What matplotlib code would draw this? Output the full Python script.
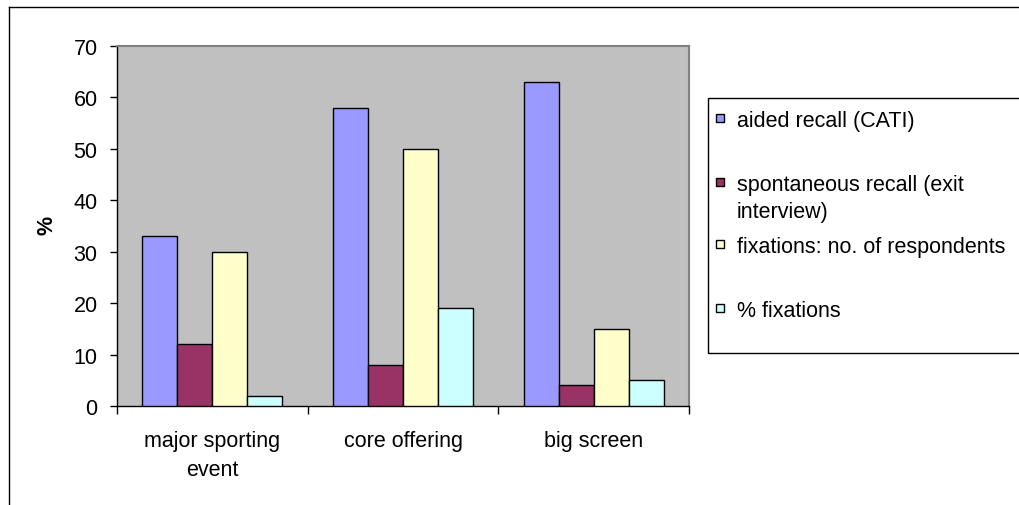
import matplotlib.pyplot as plt
import numpy as np
from matplotlib.patches import Rectangle
from matplotlib.lines import Line2D

plt.rcParams['font.family'] = ['Liberation Sans', 'DejaVu Sans']

categories = ['major sporting\nevent', 'core offering', 'big screen']
series = ['aided recall (CATI)', 'spontaneous recall (exit\ninterview)',
          'fixations: no. of respondents', '% fixations']
aided = [33, 58, 63]
spontaneous = [12, 8, 4]
fixations_resp = [30, 50, 15]
fixations_pct = [2, 19, 5]
colors = ['#9999FF', '#993366', '#FFFFCC', '#CCFFFF']

W, H = 1020, 506
FS = 15.5
fig = plt.figure(figsize=(W / 100, H / 100), dpi=100)

def fx(x):
    return x / W

def fy(y):
    return 1 - y / H

# outer chart border (left and top edges)
fig.add_artist(Line2D([fx(9), fx(9)], [fy(8), 0], color='black', lw=1))
fig.add_artist(Line2D([fx(9), 1], [fy(8), fy(8)], color='black', lw=1))

ax = fig.add_axes([fx(117), fy(407), fx(689 - 117), (407 - 47) / H])
ax.set_facecolor('#C0C0C0')

x = np.arange(len(categories))
bw = 0.184
values = [aided, spontaneous, fixations_resp, fixations_pct]
for i, (vals, c) in enumerate(zip(values, colors)):
    ax.bar(x + (i - 1.5) * bw, vals, width=bw, color=c,
           edgecolor='black', linewidth=1, zorder=3)

ax.set_xlim(-0.5, 2.5)
ax.set_ylim(0, 70)
ax.set_yticks(range(0, 71, 10))
ax.tick_params(axis='y', direction='out', length=5, width=1, pad=9,
               labelsize=FS)

ax.set_xticks([-0.5, 0.5, 1.5, 2.5])
ax.set_xticklabels([])
ax.tick_params(axis='x', which='major', direction='out', length=6, width=1)
ax.set_xticks(x, minor=True)
ax.set_xticklabels(categories, minor=True, fontsize=FS, linespacing=1.5)
ax.tick_params(axis='x', which='minor', length=0, pad=17)

for s in ['top', 'right']:
    ax.spines[s].set_color('#808080')
    ax.spines[s].set_linewidth(1.5)
for s in ['left', 'bottom']:
    ax.spines[s].set_color('black')
    ax.spines[s].set_linewidth(1)

fig.text(fx(47), fy(225), '%', rotation=90, ha='center', va='center',
         fontsize=FS, fontweight='bold')

# legend box
fig.add_artist(Rectangle((fx(708), fy(354)), 1.0, (354 - 99) / H,
                         transform=fig.transFigure, facecolor='white',
                         edgecolor='black', lw=1))
entry_y = [119, 183, 245, 309]
for lab, c, yy in zip(series, colors, entry_y):
    fig.add_artist(Rectangle((fx(716), fy(yy + 4)), fx(8), 8 / H,
                             transform=fig.transFigure, facecolor=c,
                             edgecolor='black', lw=1))
    fig.text(fx(737), fy(yy - 8), lab, ha='left', va='top',
             fontsize=FS, linespacing=1.4)

fig.savefig('out.png', dpi=100)
